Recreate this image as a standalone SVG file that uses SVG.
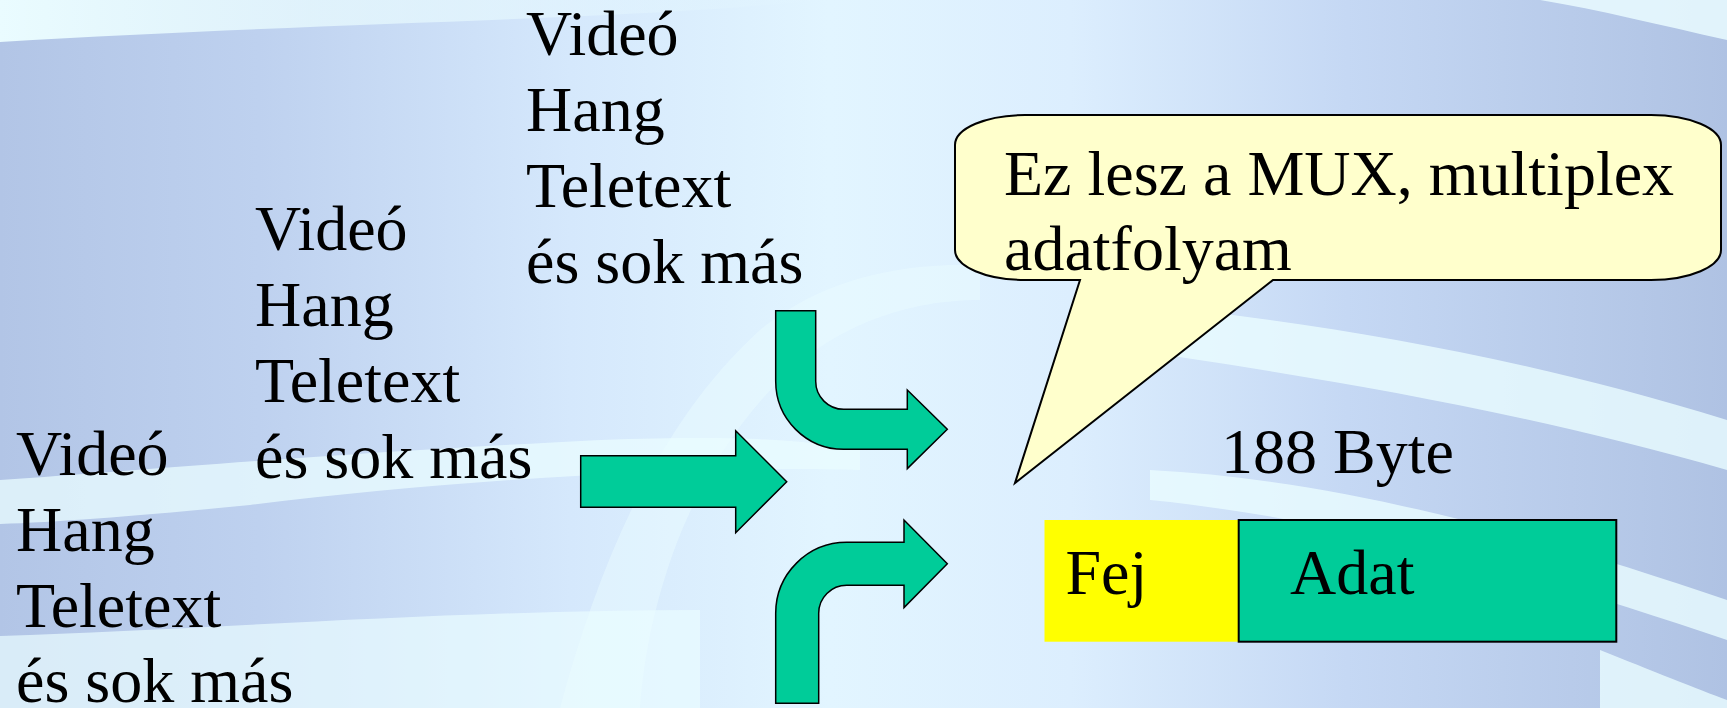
<svg xmlns="http://www.w3.org/2000/svg" width="1727" height="708" viewBox="0 0 1727 708">
<defs>
<linearGradient id="bg" x1="0" y1="0" x2="1" y2="0">
<stop offset="0" stop-color="#B2C5E6"/>
<stop offset="0.15" stop-color="#BED1EF"/>
<stop offset="0.33" stop-color="#D5E8FC"/>
<stop offset="0.48" stop-color="#E2F5FF"/>
<stop offset="0.62" stop-color="#DCEEFE"/>
<stop offset="0.78" stop-color="#C5D8F4"/>
<stop offset="1" stop-color="#AFC2E3"/>
</linearGradient>
<linearGradient id="topband" x1="0" y1="0" x2="1" y2="0">
<stop offset="0" stop-color="#EAFCFF" stop-opacity="1"/>
<stop offset="0.6" stop-color="#EAFCFF" stop-opacity="0.6"/>
<stop offset="1" stop-color="#EAFCFF" stop-opacity="0"/>
</linearGradient>
<style>
.t{font-family:"Liberation Serif","Times New Roman",serif;font-size:64px;fill:#000}
.arrow{fill:#00CC99;stroke:#000;stroke-width:1.5;stroke-linejoin:miter}
.band{fill:#EAFCFF}
</style>
</defs>
<g id="background">
<rect x="0" y="0" width="1727" height="708" fill="url(#bg)"/>
<path d="M0,0 H820 C640,20 330,22 0,42 Z" fill="url(#topband)"/>
<path class="band" opacity="0.75" d="M0,480 C150,470 300,455 600,440 C750,435 800,440 860,450 L860,470 C700,465 450,480 250,505 C150,515 60,522 0,524 Z"/>
<path class="band" opacity="0.7" d="M0,636 C200,630 450,610 700,610 L700,708 L0,708 Z"/>
<path class="band" opacity="0.45" d="M560,708 C600,560 660,420 760,330 C820,280 900,262 980,265 L980,300 C900,300 830,330 780,380 C700,460 650,580 640,708 Z"/>
<path class="band" opacity="0.8" d="M1100,300 C1300,320 1500,350 1727,420 L1727,470 C1500,405 1300,375 1100,345 Z"/>
<path class="band" opacity="0.8" d="M1150,470 C1350,480 1550,540 1727,600 L1727,640 C1550,580 1350,520 1150,500 Z"/>
<path class="band" opacity="0.85" d="M1540,0 H1727 V40 C1660,25 1600,10 1540,0 Z"/>
<path class="band" opacity="0.8" d="M1600,650 C1650,670 1700,690 1727,700 L1727,708 H1600 Z"/>
</g>
<g id="col3">
<text class="t" x="526" y="55">Videó</text>
<text class="t" x="526" y="131">Hang</text>
<text class="t" x="526" y="207">Teletext</text>
<text class="t" x="526" y="283">és sok más</text>
</g>
<g id="col2">
<text class="t" x="255" y="250">Videó</text>
<text class="t" x="255" y="326">Hang</text>
<text class="t" x="255" y="402">Teletext</text>
<text class="t" x="255" y="478">és sok más</text>
</g>
<g id="col1">
<text class="t" x="16" y="475">Videó</text>
<text class="t" x="16" y="551">Hang</text>
<text class="t" x="16" y="627">Teletext</text>
<text class="t" x="16" y="702">és sok más</text>
</g>
<g id="connectors">
<path id="arrow-straight" class="arrow" d="M580.7,455.7 H735.7 V430.7 L786.7,481.7 L735.7,532.7 V507.3 H580.7 Z"/>
<path id="arrow-top" class="arrow" d="M775.7,310.7 H815.7 V381.3 A28,28 0 0 0 843.7,409.3 H907.3 V390 L947.3,429.3 L907.3,468.6 V449.3 H843.7 A68,68 0 0 1 775.7,381.3 Z"/>
<path id="arrow-bottom" class="arrow" d="M775.7,703.3 V613.3 A71,71 0 0 1 846.7,542.3 H904 V520 L947.3,563.8 L904,607.6 V585.3 H846.7 A28,28 0 0 0 818.7,613.3 V703.3 Z"/>
</g>
<g id="callout">
<path d="M1025,115 H1651 A70,30 0 0 1 1721,145 V250 A70,30 0 0 1 1651,280 H1273 L1015,483 L1080,280 H1025 A70,30 0 0 1 955,250 V145 A70,30 0 0 1 1025,115 Z" fill="#FFFFCC" stroke="#000" stroke-width="2"/>
<text class="t" x="1004" y="195">Ez lesz a MUX, multiplex</text>
<text class="t" x="1004" y="270">adatfolyam</text>
</g>
<g id="size-label">
<text class="t" x="1221" y="473">188 Byte</text>
</g>
<g id="packet">
<rect id="fej" x="1044.5" y="520" width="194.2" height="121.7" fill="#FFFF00"/>
<rect id="adat" x="1238.7" y="520" width="377.6" height="121.7" fill="#00CC99" stroke="#000" stroke-width="2"/>
<text class="t" x="1065.5" y="594">Fej</text>
<text class="t" x="1290" y="594">Adat</text>
</g>
</svg>
